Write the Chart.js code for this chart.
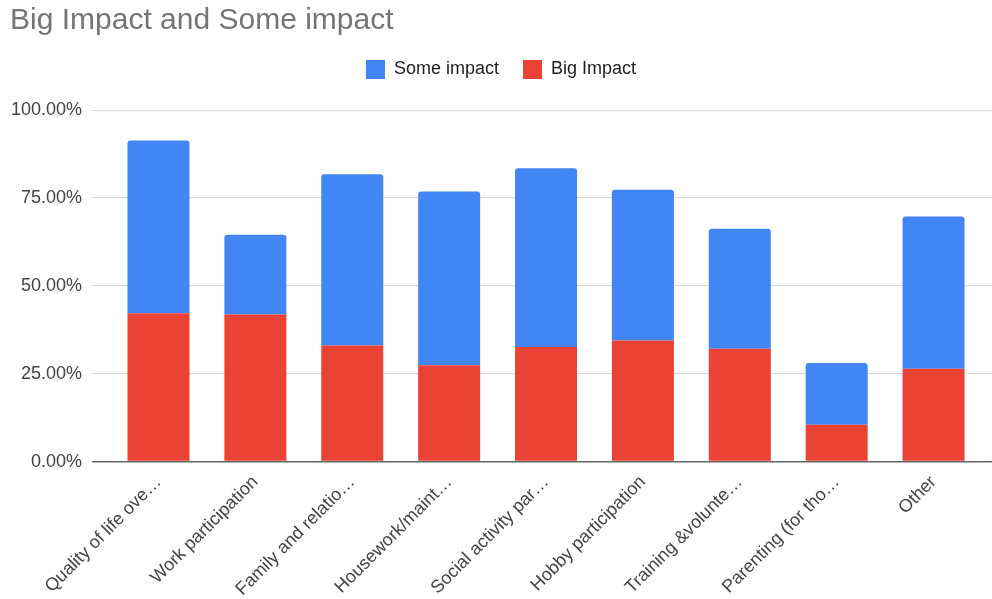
<!DOCTYPE html>
<html>
<head>
<meta charset="utf-8">
<script src="https://cdn.jsdelivr.net/npm/chart.js@4/dist/chart.umd.min.js"></script>
<style>
  html, body { margin: 0; padding: 0; background: #fff; }
  #wrap { width: 992px; height: 599px; position: relative; }
</style>
</head>
<body>
<div id="wrap"><canvas id="bar-chart"></canvas></div>
<script>
// Categorias (rótulos já cortados como aparecem no eixo)
const categorias = [
  'Quality of life ove…',
  'Work participation',
  'Family and relatio…',
  'Housework/maint…',
  'Social activity par…',
  'Hobby participation',
  'Training &volunte…',
  'Parenting (for tho…',
  'Other'
];

// Percentuais de cada série
const bigImpact  = [42.2, 41.8, 33.0, 27.4, 32.6, 34.4, 32.1, 10.5, 26.4];
const someImpact = [49.1, 22.7, 48.7, 49.4, 50.8, 42.9, 34.1, 17.5, 43.3];

// Marcas do eixo Y
const ticksY = [0, 25, 50, 75, 100];

const fonte = "'Liberation Sans', Arial, sans-serif";
const corGrade = (ctx) => (ctx.tick && ctx.tick.value === 0 ? '#666666' : '#d9d9d9');
const larguraGrade = (ctx) => (ctx.tick && ctx.tick.value === 0 ? 1.5 : 1);

// Dá um respiro entre a legenda e a área do gráfico
const espacoLegenda = {
  id: 'espacoLegenda',
  beforeInit(chart) {
    const fitOriginal = chart.legend.fit;
    chart.legend.fit = function () {
      fitOriginal.call(this);
      this.height += 21;
    };
  }
};

const ctx = document.getElementById('bar-chart').getContext('2d');

const grafico = new Chart(ctx, {
  type: 'bar',
  data: {
    labels: categorias,
    datasets: [
      {
        label: 'Big Impact',
        data: bigImpact,
        backgroundColor: '#ea4335',
        borderWidth: 0
      },
      {
        label: 'Some impact',
        data: someImpact,
        backgroundColor: '#4285f4',
        borderWidth: 0,
        borderRadius: { topLeft: 3, topRight: 3, bottomLeft: 0, bottomRight: 0 },
        borderSkipped: false
      }
    ]
  },
  plugins: [espacoLegenda],
  options: {
    responsive: true,
    maintainAspectRatio: false,
    animation: false,
    layout: { padding: { left: 10, right: 0, top: 0, bottom: 0 } },
    datasets: {
      bar: { categoryPercentage: 1, barPercentage: 0.64 }
    },
    plugins: {
      title: {
        display: true,
        text: 'Big Impact and Some impact',
        align: 'start',
        color: '#757575',
        font: { family: fonte, size: 30, weight: 'normal', lineHeight: 1 },
        padding: { top: 6, bottom: 0 }
      },
      legend: {
        display: true,
        reverse: true,
        labels: {
          color: '#222',
          font: { family: fonte, size: 18 },
          boxWidth: 19,
          boxHeight: 19,
          padding: 24
        }
      },
      tooltip: { enabled: false }
    },
    scales: {
      x: {
        stacked: true,
        grid: { display: false },
        border: { display: false },
        ticks: {
          color: '#444',
          font: { family: fonte, size: 18 },
          minRotation: 45,
          maxRotation: 45,
          autoSkip: false,
          padding: 2
        },
        // os rótulos inclinados não devem empurrar a área do gráfico
        afterFit: (escala) => {
          escala.paddingLeft = 0;
          escala.paddingRight = 0;
          escala.height -= 3;
        }
      },
      y: {
        stacked: true,
        min: 0,
        max: 100,
        afterBuildTicks: (escala) => { escala.ticks = ticksY.map(v => ({ value: v })); },
        afterFit: (escala) => { escala.width -= 9; },
        grid: { color: corGrade, lineWidth: larguraGrade, tickLength: 18 },
        border: { display: false },
        ticks: {
          color: '#444',
          font: { family: fonte, size: 18 },
          padding: 10,
          callback: (v) => v.toFixed(2) + '%'
        }
      },
      // eixo só para prolongar as linhas da grade até a borda direita
      y2: {
        position: 'right',
        min: 0,
        max: 100,
        afterBuildTicks: (escala) => { escala.ticks = ticksY.map(v => ({ value: v })); },
        grid: { color: corGrade, lineWidth: larguraGrade, tickLength: 10, drawOnChartArea: false },
        border: { display: false },
        ticks: { display: false }
      }
    }
  }
});
</script>
</body>
</html>
